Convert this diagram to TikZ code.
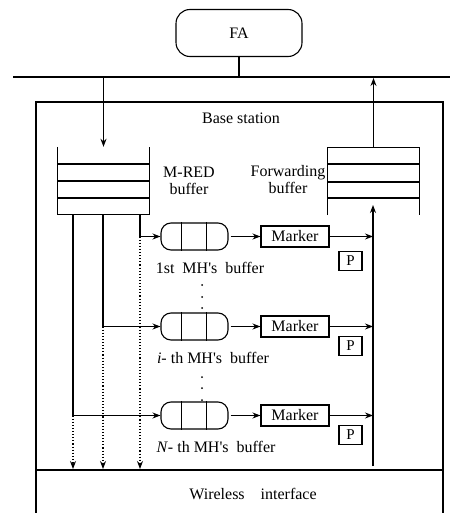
\documentclass[tikz,border=0pt]{standalone}
\usepackage{fontspec}
\setmainfont{Liberation Serif}
\usetikzlibrary{arrows.meta,calc}
\begin{document}
\begin{tikzpicture}[x=1pt,y=-1pt,
  ln/.style={line width=1.1pt},
  arr/.style={ln,-{Stealth[length=8pt,width=6pt]}},
  darr/.style={ln,dotted,-{Stealth[length=8pt,width=6pt]}},
  txt/.style={font=\fontsize{16}{17}\selectfont,inner sep=0pt,align=center},
  queue/.style={draw,ln,rounded corners=10pt,minimum width=67pt,minimum height=27pt,inner sep=0pt},
  markerbox/.style={draw,ln,minimum width=68pt,minimum height=21pt,inner sep=0pt,font=\fontsize{16}{17}\selectfont},
  pbox/.style={draw,ln,minimum width=23pt,minimum height=19pt,inner sep=0pt,font=\fontsize{15}{16}\selectfont},
  stackbox/.style={minimum width=91pt,minimum height=67pt,inner sep=0pt},
  dotmark/.style={fill,circle,inner sep=0pt,minimum size=2pt}
]
\useasboundingbox (0,0) rectangle (459,513);

% FA and bus
\node[draw,ln,rounded corners=14pt,minimum width=126pt,minimum height=47pt,txt] (fa) at (239,33) {FA};
\coordinate (bl) at (13,77);
\coordinate (br) at (450,77);
\draw[ln] (bl) -- (br);
\draw[ln] (fa.south) -- (fa.south |- bl);

% Base station box and wireless interface
\draw[ln] (36,513) -- (36,102) -- (443,102) -- (443,513);
\draw[ln] (36,470) -- (443,470);
\node[txt] (bs) at (241,118) {Base station};
\node[txt] (wi) at (253,494) {Wireless\quad interface};

% M-RED buffer stack (open top)
\node[stackbox] (mred) at (103.5,180.5) {};
\draw[ln] (mred.north west) -- (mred.south west) -- (mred.south east) -- (mred.north east);
\foreach \yy in {164,181,198} \draw[ln] (mred.west |- 0,\yy) -- (mred.east |- 0,\yy);
\node[txt] (mredl) at (189,181) {M-RED\\buffer};

% Forwarding buffer stack (open bottom)
\node[stackbox] (fwd) at (373.5,181.5) {};
\draw[ln] (fwd.south west) -- (fwd.north west) -- (fwd.north east) -- (fwd.south east);
\foreach \yy in {164,182,198} \draw[ln] (fwd.west |- 0,\yy) -- (fwd.east |- 0,\yy);
\node[txt] (fwdl) at (288,180) {Forwarding\\buffer};

% arrows to/from bus
\draw[arr] (mred.north |- bl) -- (mred.north);
\draw[arr] (fwd.north) -- ($(fwd.north |- bl)+(0,1)$);

% right vertical collector line
\coordinate (vb) at (373,466);
\coordinate (vt) at (373,205);
\draw[arr] (vb) -- (vt);

% queues, markers, P boxes
\foreach \n/\yq/\yp in {1/236.5/261, i/326.5/346, N/415.5/435} {
  \node[queue] (q\n) at (194.5,\yq) {};
  \draw[ln] ($(q\n.north west)+(21,0)$) -- ($(q\n.south west)+(21,0)$);
  \draw[ln] ($(q\n.north west)+(46,0)$) -- ($(q\n.south west)+(46,0)$);
  \node[markerbox] (m\n) at (295,\yq) {Marker};
  \node[pbox] (p\n) at (350.5,\yp) {P};
  \draw[arr,shorten <=2pt] (q\n.east) -- (m\n.west);
  \draw[arr] (m\n.east) -- (m\n.east -| vb);
}

% branches from M-RED buffer
\coordinate (b1) at (140,236.5);
\coordinate (bi) at (103,326.5);
\coordinate (bN) at (73,415.5);
\foreach \n in {1,i,N} {
  \draw[ln] (b\n |- mred.south) -- (b\n);
  \draw[arr] (b\n) -- (q\n.west);
  \draw[darr] (b\n) -- (b\n |- 0,469);
}

% labels
\node[txt] (l1) at (210,268) {1st\ \ MH\textquotesingle s\ \ buffer};
\node[txt] (li) at (213,358) {\textit{i}- th MH\textquotesingle s\ \ buffer};
\node[txt] (lN) at (216,447) {\textit{N}- th MH\textquotesingle s\ \ buffer};

% vertical dots
\foreach \yy in {285,297,308,377,388,400} \node[dotmark] at (202,\yy) {};
\end{tikzpicture}
\end{document}
